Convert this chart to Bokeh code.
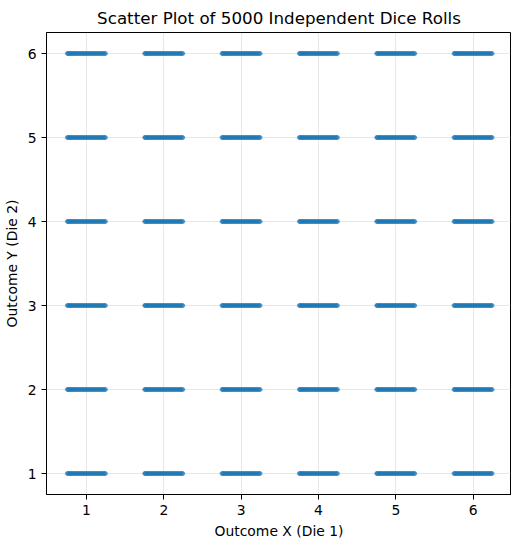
from bokeh.plotting import figure
from bokeh.models import Range1d, FixedTicker, ColumnDataSource
from bokeh.embed import file_html
from bokeh.resources import INLINE

# Dice faces
faces = [1, 2, 3, 4, 5, 6]
tick_labels = ["1", "2", "3", "4", "5", "6"]
# Horizontal jitter offsets (about +/-0.25)
jitter = [-0.248, -0.241, -0.233, -0.226, -0.214, -0.205, -0.197, -0.186, -0.178,
          -0.166, -0.158, -0.147, -0.139, -0.128, -0.117, -0.109, -0.097, -0.088,
          -0.076, -0.067, -0.055, -0.046, -0.036, -0.024, -0.015, -0.004, 0.007,
          0.018, 0.027, 0.038, 0.049, 0.058, 0.069, 0.081, 0.089, 0.102, 0.111,
          0.123, 0.132, 0.144, 0.153, 0.165, 0.176, 0.185, 0.196, 0.208, 0.217,
          0.229, 0.238, 0.247]

xs, ys = [], []
for d1 in faces:
    for d2 in faces:
        for j in jitter:
            xs.append(d1 + j)
            ys.append(d2)
src = ColumnDataSource(data=dict(x=xs, y=ys))

p = figure(width=508, height=531, output_backend="svg", toolbar_location=None,
           x_range=Range1d(0.483, 6.496), y_range=Range1d(0.75, 6.25),
           title="Scatter Plot of 5000 Independent Dice Rolls")
p.frame_width = 465
p.frame_height = 462
p.min_border_left = 43
p.min_border_right = 0
p.min_border_top = 26
p.min_border_bottom = 43

p.title.align = "center"
p.title.text_font = "DejaVu Sans"
p.title.text_font_size = "16.7px"
p.title.text_font_style = "normal"
p.title.text_color = "black"

p.scatter("x", "y", source=src, size=4, fill_color="#1f77b4", line_color="#1f77b4",
          fill_alpha=0.4, line_alpha=0.4)

for ax in (p.xaxis, p.yaxis):
    ax.ticker = FixedTicker(ticks=faces)
    ax.major_label_overrides = {f: t for f, t in zip(faces, tick_labels)}
    ax.minor_tick_line_color = None
    ax.major_tick_in = 0
    ax.major_tick_out = 5
    ax.major_tick_line_color = "black"
    ax.axis_line_color = "black"
    ax.major_label_text_font = "DejaVu Sans"
    ax.major_label_text_font_size = "13.9px"
    ax.major_label_text_color = "black"
    ax.axis_label_text_font = "DejaVu Sans"
    ax.axis_label_text_font_size = "13.9px"
    ax.axis_label_text_font_style = "normal"
    ax.axis_label_text_color = "black"
p.yaxis.major_label_orientation = "horizontal"
p.xaxis.axis_label = "Outcome X (Die 1)"
p.yaxis.axis_label = "Outcome Y (Die 2)"

p.xgrid.ticker = FixedTicker(ticks=faces)
p.ygrid.ticker = FixedTicker(ticks=faces)
p.grid.grid_line_color = "#b0b0b0"
p.grid.grid_line_alpha = 0.3
p.outline_line_color = "black"
p.outline_line_alpha = 1
p.background_fill_color = "white"

open("out.html", "w").write(file_html(p, INLINE))
